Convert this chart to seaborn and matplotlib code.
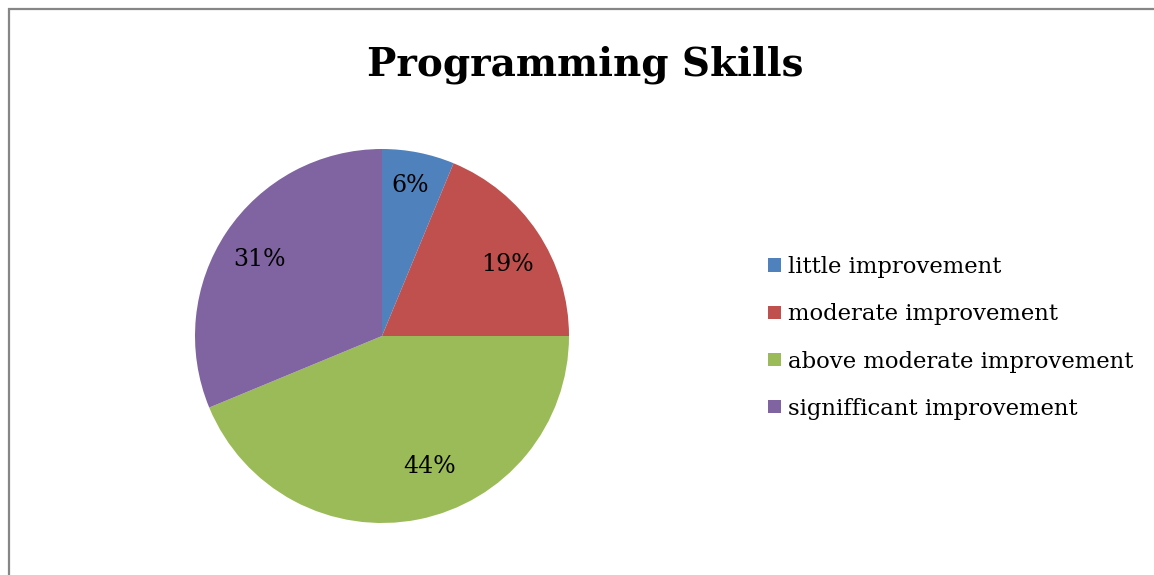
import matplotlib
matplotlib.use("Agg")
import numpy as np
import matplotlib.pyplot as plt
import seaborn as sns
from matplotlib.patches import Rectangle

categories = ["little improvement", "moderate improvement",
              "above moderate improvement", "signifficant improvement"]
counts = [2, 6, 14, 10]
title = "Programming Skills"
colors = ["#4F81BD", "#C0504D", "#9BBB59", "#8064A2"]

sns.set_theme(style="white")
plt.rcParams['font.family'] = ['DejaVu Serif']
plt.rcParams['text.color'] = 'black'

W, H = 1154, 575
fig = plt.figure(figsize=(W / 100, H / 100), dpi=100)
fig.patch.set_facecolor("white")

cx, cy, r = 382, 336, 187
ax = fig.add_axes([(cx - r) / W, (H - cy - r) / H, 2 * r / W, 2 * r / H])
palette = sns.color_palette(colors)
wedges, texts, autotexts = ax.pie(
    counts, colors=palette, startangle=90, counterclock=False,
    autopct=lambda p: f"{p:.0f}%", pctdistance=0.78,
    wedgeprops=dict(linewidth=0),
    textprops=dict(fontsize=17, color="black"))
ax.set_xlim(-1, 1)
ax.set_ylim(-1, 1)
ax.set_aspect("equal")
ax.axis("off")

# label placement similar to "best fit" positions
label_dist = [0.82, 0.773, 0.746, 0.773]
label_shift = [0.7, -4.3, 8.9, 2.0]
for w, t, d, s in zip(wedges, autotexts, label_dist, label_shift):
    mid = np.deg2rad((w.theta1 + w.theta2) / 2 + s)
    t.set_position((d * np.cos(mid), d * np.sin(mid)))

fig.text(585 / W, 1 - 75 / H, title, ha="center", va="baseline",
         fontsize=28, fontweight="bold", color="black")

leg = fig.legend(wedges, categories, loc="center left",
                 bbox_to_anchor=(757 / W, 1 - 338 / H), frameon=False,
                 fontsize=16.4, handlelength=0.55, handleheight=0.55,
                 handletextpad=0.3, labelspacing=1.1, borderpad=0,
                 labelcolor="black")

fig.add_artist(Rectangle((8.5 / W, -0.1), 2, (H - 8.5) / H + 0.1,
                         transform=fig.transFigure, fill=False,
                         edgecolor="#868686", linewidth=1.6))

fig.savefig("out.png", dpi=100, facecolor="white")
